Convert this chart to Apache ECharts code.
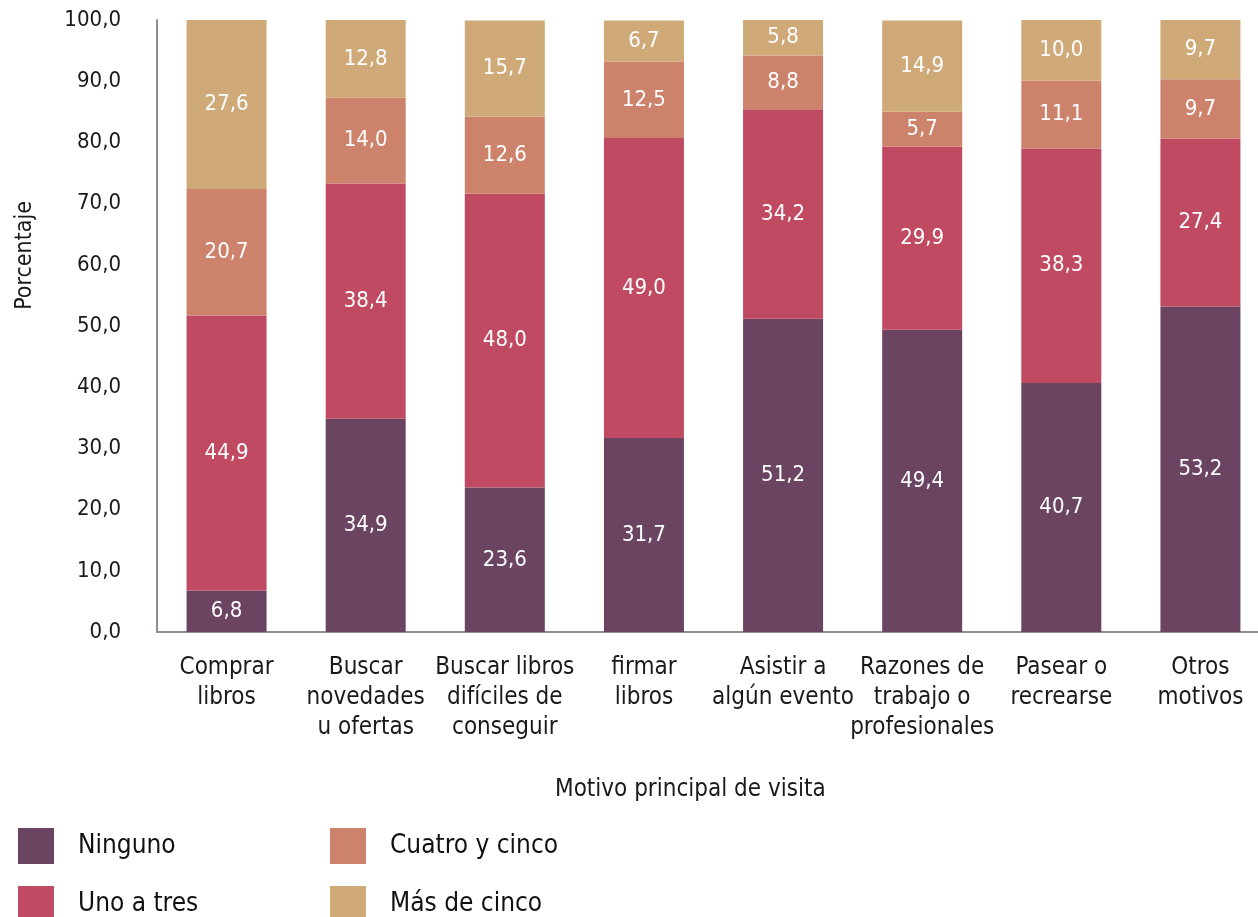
<!DOCTYPE html>
<html><head><meta charset="utf-8">
<script src="https://cdn.jsdelivr.net/npm/echarts@6/dist/echarts.min.js"></script>
<style>html,body{margin:0;padding:0;background:#fff}#c{width:1258px;height:917px}</style>
</head><body><div id="c"></div>
<script>
const categories = ["Comprar\nlibros","Buscar\nnovedades\nu ofertas","Buscar libros\ndifíciles de\nconseguir","firmar\nlibros","Asistir a\nalgún evento","Razones de\ntrabajo o\nprofesionales","Pasear o\nrecrearse","Otros\nmotivos"];
const ninguno = [6.8, 34.9, 23.6, 31.7, 51.2, 49.4, 40.7, 53.2];
const unoATres = [44.9, 38.4, 48.0, 49.0, 34.2, 29.9, 38.3, 27.4];
const cuatroYCinco = [20.7, 14.0, 12.6, 12.5, 8.8, 5.7, 11.1, 9.7];
const masDeCinco = [27.6, 12.8, 15.7, 6.7, 5.8, 14.9, 10.0, 9.7];
const seriesNames = ["Ninguno","Uno a tres","Cuatro y cinco","Más de cinco"];
const colors = ["#6B4462","#C04A62","#CC826B","#D0A978"];

const FONT = "'Liberation Sans Narrow','DejaVu Sans Condensed',sans-serif";
const fmt = v => v.toFixed(1).replace('.', ',');
const chart = echarts.init(document.getElementById('c'));
const mk = (name, data, i) => ({
  name, type: 'bar', stack: 'total', data, barWidth: 80,
  itemStyle: { color: colors[i] },
  label: { show: true, position: 'inside', color: '#fff', fontSize: 22, fontFamily: FONT,
    formatter: p => fmt(p.value) }
});
const leg = (name, left, top) => ({
  left, top, itemWidth: 36, itemHeight: 36, data: [name], icon: 'rect',
  textStyle: { fontSize: 26, color: '#111', padding: [0,0,0,19], fontFamily: FONT }
});
chart.setOption({
  animation: false,
  textStyle: { fontFamily: FONT },
  grid: { left: 157, top: 20, bottom: 285, right: -12, outerBoundsMode: 'none', containLabel: false },
  xAxis: {
    type: 'category', data: categories,
    axisLine: { lineStyle: { color: '#8c8f93', width: 2 } },
    axisTick: { show: false },
    axisLabel: { color: '#1a1a1a', fontSize: 24, lineHeight: 30, margin: 21, interval: 0, fontFamily: FONT }
  },
  yAxis: {
    type: 'value', min: 0, max: 100, interval: 10,
    splitLine: { show: false },
    axisLine: { show: true, lineStyle: { color: '#8c8f93', width: 2 } },
    axisTick: { show: false },
    axisLabel: { color: '#1a1a1a', fontSize: 22, margin: 36, fontFamily: FONT, formatter: v => fmt(v) }
  },
  legend: [
    leg(seriesNames[0], 13, 823),
    leg(seriesNames[1], 13, 881),
    leg(seriesNames[2], 325, 823),
    leg(seriesNames[3], 325, 881)
  ],
  graphic: [
    { type: 'text', left: 14, top: 201, rotation: Math.PI/2,
      style: { text: 'Porcentaje', fontSize: 23, fill: '#1a1a1a', fontFamily: FONT } },
    { type: 'text', left: 555, top: 778,
      style: { text: 'Motivo principal de visita', fontSize: 24, fill: '#1a1a1a', fontFamily: FONT } }
  ],
  series: [
    mk(seriesNames[0], ninguno, 0),
    mk(seriesNames[1], unoATres, 1),
    mk(seriesNames[2], cuatroYCinco, 2),
    mk(seriesNames[3], masDeCinco, 3)
  ]
});
</script></body></html>
